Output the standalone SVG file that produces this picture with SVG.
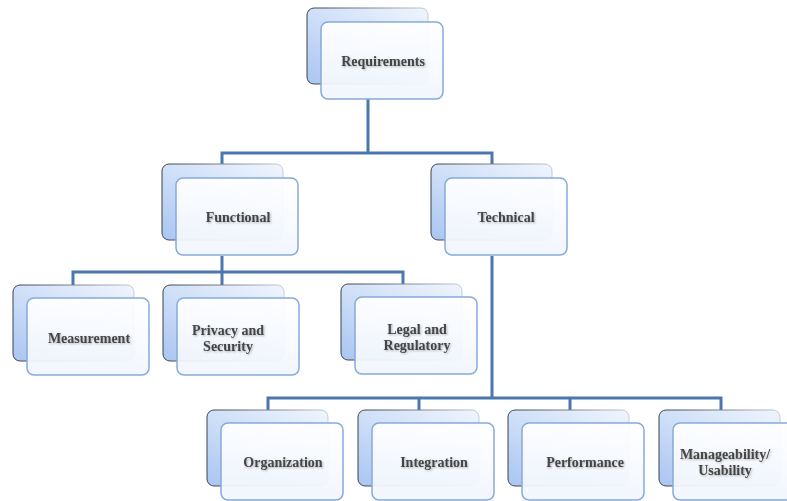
<svg xmlns="http://www.w3.org/2000/svg" width="787" height="501" viewBox="0 0 787 501">
  <defs>
    <linearGradient id="backFill" x1="0" y1="1" x2="1" y2="0">
      <stop offset="0" stop-color="#a9c5f1"/>
      <stop offset="0.5" stop-color="#d0e0f8"/>
      <stop offset="1" stop-color="#f0f5fd"/>
    </linearGradient>
    <linearGradient id="backEdge" x1="0" y1="0" x2="1" y2="0">
      <stop offset="0" stop-color="#3e4148"/>
      <stop offset="0.6" stop-color="#8a8f99"/>
      <stop offset="1" stop-color="#c5ccd8"/>
    </linearGradient>
    <linearGradient id="frontFill" x1="0" y1="0" x2="0" y2="1">
      <stop offset="0" stop-color="#ffffff"/>
      <stop offset="1" stop-color="#f1f6fd"/>
    </linearGradient>
    <filter id="txtShadow" x="-10%" y="-30%" width="120%" height="160%">
      <feGaussianBlur in="SourceAlpha" stdDeviation="1"/>
      <feOffset dx="0.5" dy="0.5" result="b"/>
      <feComponentTransfer><feFuncA type="linear" slope="0.3"/></feComponentTransfer>
      <feMerge><feMergeNode/><feMergeNode in="SourceGraphic"/></feMerge>
    </filter>
  </defs>
  <style>
    .back { fill: url(#backFill); stroke: url(#backEdge); stroke-width: 1; }
    .front { fill: url(#frontFill); fill-opacity: 0.93; stroke: #86a9dc; stroke-width: 1.5; }
    .wire { fill: none; stroke: #4a77ae; stroke-width: 3; stroke-linejoin: miter; }
    .label { font-family: "Liberation Serif", "DejaVu Serif", serif; font-size: 14px; font-weight: bold; fill: #454545; text-anchor: middle; filter: url(#txtShadow); }
  </style>

  <!-- connectors -->
  <g id="connectors">
    <path class="wire" d="M368 98 V153 M222 164 V153 H492 V164"/>
    <path class="wire" d="M222 256 V285 M73 285 V272 H403 V284"/>
    <path class="wire" d="M492 256 V398 M268 410 V398 H721 V410 M419 398 V410 M570 398 V410"/>
  </g>

  <g id="requirements">
    <rect class="back" x="307" y="8" width="121" height="76" rx="7"/>
    <rect class="front" x="321" y="22" width="122" height="77" rx="7"/>
    <text class="label" x="383" y="66">Requirements</text>
  </g>

  <g id="functional">
    <rect class="back" x="162" y="164" width="121" height="76" rx="7"/>
    <rect class="front" x="176" y="178" width="122" height="77" rx="7"/>
    <text class="label" x="238" y="222">Functional</text>
  </g>

  <g id="technical">
    <rect class="back" x="431" y="164" width="121" height="76" rx="7"/>
    <rect class="front" x="445" y="178" width="122" height="77" rx="7"/>
    <text class="label" x="506" y="222">Technical</text>
  </g>

  <g id="measurement">
    <rect class="back" x="13" y="285" width="121" height="76" rx="7"/>
    <rect class="front" x="27" y="298" width="122" height="77" rx="7"/>
    <text class="label" x="89" y="343">Measurement</text>
  </g>

  <g id="privacy-security">
    <rect class="back" x="163" y="285" width="121" height="76" rx="7"/>
    <rect class="front" x="177" y="298" width="122" height="77" rx="7"/>
    <text class="label" x="228" y="335">Privacy and</text>
    <text class="label" x="228" y="351">Security</text>
  </g>

  <g id="legal-regulatory">
    <rect class="back" x="341" y="284" width="121" height="76" rx="7"/>
    <rect class="front" x="355" y="297" width="122" height="77" rx="7"/>
    <text class="label" x="417" y="334">Legal and</text>
    <text class="label" x="417" y="350">Regulatory</text>
  </g>

  <g id="organization">
    <rect class="back" x="207" y="410" width="121" height="76" rx="7"/>
    <rect class="front" x="221" y="423" width="122" height="77" rx="7"/>
    <text class="label" x="283" y="467">Organization</text>
  </g>

  <g id="integration">
    <rect class="back" x="358" y="410" width="121" height="76" rx="7"/>
    <rect class="front" x="372" y="423" width="122" height="77" rx="7"/>
    <text class="label" x="434" y="467">Integration</text>
  </g>

  <g id="performance">
    <rect class="back" x="508" y="410" width="121" height="76" rx="7"/>
    <rect class="front" x="522" y="423" width="122" height="77" rx="7"/>
    <text class="label" x="585" y="467">Performance</text>
  </g>

  <g id="manageability-usability">
    <rect class="back" x="659" y="410" width="121" height="76" rx="7"/>
    <rect class="front" x="673" y="423" width="122" height="77" rx="7"/>
    <text class="label" x="725" y="459">Manageability/</text>
    <text class="label" x="725" y="475">Usability</text>
  </g>
</svg>
